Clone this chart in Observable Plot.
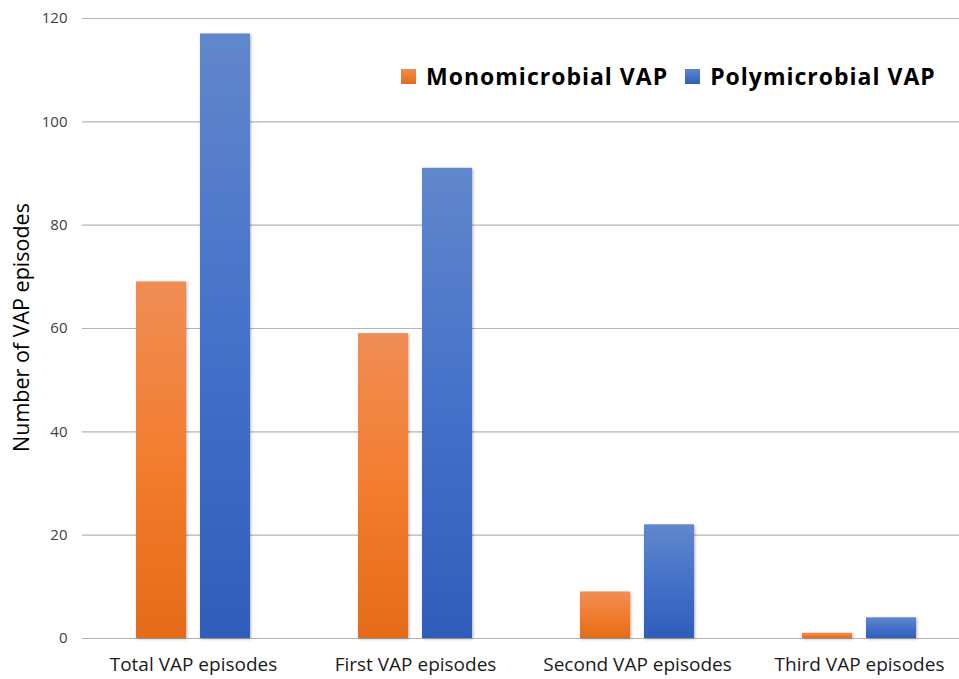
<!DOCTYPE html>
<html>
<head>
<meta charset="utf-8">
<script src="https://cdn.jsdelivr.net/npm/d3@7"></script>
<script src="https://cdn.jsdelivr.net/npm/@observablehq/plot@0.6"></script>
<style>
  html, body { margin: 0; padding: 0; background: #fff; }
  #wrap { position: relative; width: 959px; height: 679px; font-family: "Open Sans", sans-serif; }
  #legend { position: absolute; left: 401px; top: 58px; display: flex; align-items: center;
            font-weight: 700; font-size: 23px; letter-spacing: 1px; color: #000; white-space: nowrap; line-height: 36px; }
  #legend .sw { display: inline-block; width: 15px; height: 15px; margin-right: 10px; }
  #legend .item { display: flex; align-items: center; margin-right: 17px; }
  svg g[aria-label="bar"] rect { filter: drop-shadow(1.5px 1px 1.5px rgba(0,0,0,0.3)); }
</style>
</head>
<body>
<div id="wrap"></div>
<script>
const categories = ["Total VAP episodes", "First VAP episodes", "Second VAP episodes", "Third VAP episodes"];
const monoValues = [69, 59, 9, 1];
const polyValues = [117, 91, 22, 4];
const seriesNames = ["Monomicrobial VAP", "Polymicrobial VAP"];
const yTicks = [0, 20, 40, 60, 80, 100, 120];
const yLabel = "Number of VAP episodes";

const monoData = categories.map((c, i) => ({category: c, value: monoValues[i]}));
const polyData = categories.map((c, i) => ({category: c, value: polyValues[i]}));

const gradients = () => {
  const defs = d3.create("svg:defs");
  const mk = (id, top, mid, bottom) => {
    const g = defs.append("linearGradient").attr("id", id).attr("x1", 0).attr("y1", 0).attr("x2", 0).attr("y2", 1);
    g.append("stop").attr("offset", "0%").attr("stop-color", top);
    g.append("stop").attr("offset", "50%").attr("stop-color", mid);
    g.append("stop").attr("offset", "100%").attr("stop-color", bottom);
  };
  mk("gOrange", "#f08d55", "#f27d2e", "#e56b18");
  mk("gBlue", "#6187cc", "#4472c9", "#2f5dba");
  return defs.node();
};

const chart = Plot.plot({
  width: 959,
  height: 679,
  marginLeft: 82,
  marginRight: 0,
  marginTop: 18,
  marginBottom: 41,
  style: {fontFamily: "Open Sans, sans-serif", background: "#fff"},
  x: {domain: categories, range: [82, 970], padding: 0},
  y: {domain: [0, 120], ticks: yTicks},
  marks: [
    gradients,
    Plot.ruleY(yTicks, {stroke: "#b4b4b4", strokeWidth: 1.2}),
    Plot.barY(monoData, {x: "category", y: "value", fill: "url(#gOrange)", insetLeft: 86, insetRight: 86, dx: -32}),
    Plot.barY(polyData, {x: "category", y: "value", fill: "url(#gBlue)", insetLeft: 86, insetRight: 86, dx: 32}),
    Plot.axisX({tickSize: 0, tickPadding: 19, fontSize: 19, fill: "#1a1a1a", label: null}),
    Plot.axisY({ticks: yTicks, tickSize: 0, tickPadding: 15, fontSize: 15, fill: "#404040", label: null}),
    Plot.text([yLabel], {frameAnchor: "left", textAnchor: "middle", dx: -60, dy: -1, rotate: -90, fontSize: 21.5, fill: "#000", text: d => d})
  ]
});

const wrap = document.getElementById("wrap");
wrap.appendChild(chart);

const legend = document.createElement("div");
legend.id = "legend";
const swatches = ["linear-gradient(#f08d55,#e56b18)", "linear-gradient(#5f86cc,#2f5dba)"];
seriesNames.forEach((name, i) => {
  const item = document.createElement("span");
  item.className = "item";
  const sw = document.createElement("span");
  sw.className = "sw";
  sw.style.background = swatches[i];
  item.appendChild(sw);
  item.appendChild(document.createTextNode(name));
  legend.appendChild(item);
});
wrap.appendChild(legend);
</script>
</body>
</html>
